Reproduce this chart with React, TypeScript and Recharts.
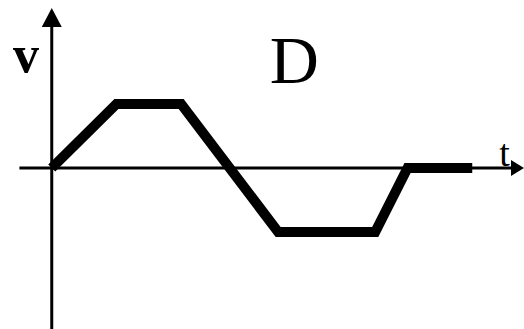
import React from 'react';
import { LineChart, Line, XAxis, YAxis, ReferenceLine, ReferenceDot } from 'recharts';

// time instants and velocity values of the graph
const times = [0, 2, 4, 7, 10, 11, 13];
const velocities = [0, 2, 2, -2, -2, 0, 0];

const data = times.map((t, i) => ({ t, v: velocities[i] }));

const serif = '"Liberation Serif", "Times New Roman", serif';

const UpArrow = (p: any) => (
  <polygon points={`${p.cx},${p.cy} ${p.cx - 10},${p.cy + 19} ${p.cx + 10},${p.cy + 19}`} fill="#000" />
);
const RightArrow = (p: any) => (
  <polygon points={`${p.cx},${p.cy} ${p.cx - 13},${p.cy - 8} ${p.cx - 13},${p.cy + 8}`} fill="#000" />
);

const textShape = (txt: string, size: number, weight: string) => (p: any) => (
  <text x={p.cx} y={p.cy} textAnchor="middle" fontFamily={serif} fontSize={size} fontWeight={weight} fill="#000">
    {txt}
  </text>
);

export default function App() {
  return (
    <div style={{ position: 'absolute', left: 0, top: 0, background: '#fff' }}>
      <LineChart width={524} height={329} data={data} margin={{ top: 0, right: 0, bottom: 0, left: 0 }}>
        <XAxis dataKey="t" type="number" domain={[-1.6, 14.6]} hide allowDataOverflow />
        <YAxis type="number" domain={[-5.03, 5.25]} hide allowDataOverflow />
        <ReferenceLine segment={[{ x: -1, y: 0 }, { x: 14.3, y: 0 }]} stroke="#000" strokeWidth={3} ifOverflow="visible" />
        <ReferenceLine segment={[{ x: 0, y: -5.03 }, { x: 0, y: 4.5 }]} stroke="#000" strokeWidth={3} ifOverflow="visible" />
        <ReferenceDot x={0} y={5} r={0} shape={UpArrow} ifOverflow="visible" />
        <ReferenceDot x={14.6} y={0} r={0} shape={RightArrow} ifOverflow="visible" />
        <ReferenceDot x={-0.8} y={3} r={0} shape={textShape('v', 52, 'bold')} ifOverflow="visible" />
        <ReferenceDot x={7.5} y={2.65} r={0} shape={textShape('D', 68, 'normal')} ifOverflow="visible" />
        <ReferenceDot x={14} y={0.05} r={0} shape={textShape('t', 38, 'normal')} ifOverflow="visible" />
        <Line
          dataKey="v"
          type="linear"
          stroke="#000"
          strokeWidth={10}
          strokeLinejoin="miter"
          strokeLinecap="butt"
          dot={false}
          activeDot={false}
          isAnimationActive={false}
        />
      </LineChart>
    </div>
  );
}
